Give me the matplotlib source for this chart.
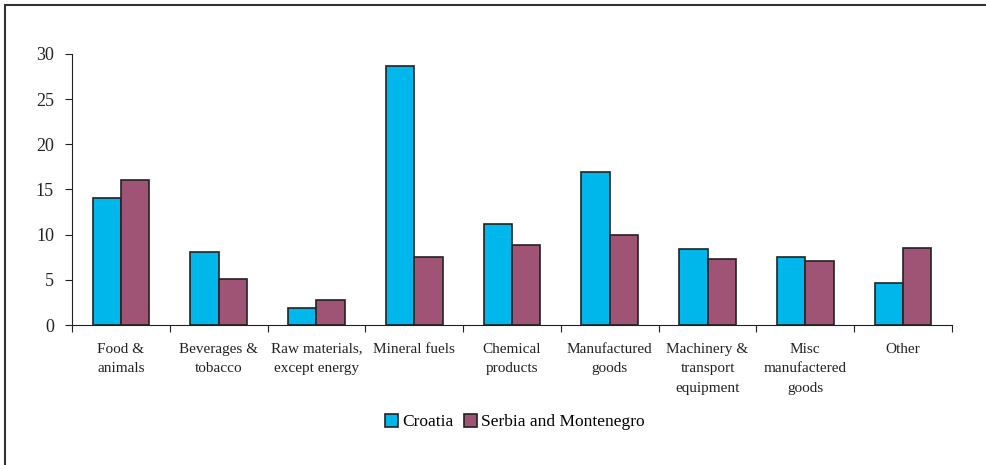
import matplotlib.pyplot as plt
import numpy as np
from matplotlib.patches import Rectangle

categories = ['Food &\nanimals', 'Beverages &\ntobacco', 'Raw materials,\nexcept energy',
              'Mineral fuels', 'Chemical\nproducts', 'Manufactured\ngoods',
              'Machinery &\ntransport\nequipment', 'Misc\nmanufactered\ngoods', 'Other']
croatia = [14.1, 8.1, 1.9, 28.7, 11.2, 16.9, 8.4, 7.5, 4.6]
serbia = [16.0, 5.1, 2.8, 7.5, 8.9, 10.0, 7.3, 7.1, 8.5]

plt.rcParams['font.family'] = ['Liberation Serif', 'DejaVu Serif']

fig = plt.figure(figsize=(9.86, 4.65), dpi=100)
ax = fig.add_axes([0.073, 0.301, 0.8925, 0.583])

x = np.arange(len(categories))
w = 0.29
ax.bar(x - w / 2, croatia, w, color='#00b7eb', edgecolor='#222222', linewidth=1.2, label='Croatia')
ax.bar(x + w / 2, serbia, w, color='#a05475', edgecolor='#222222', linewidth=1.2, label='Serbia and Montenegro')

ax.set_xlim(-0.5, len(categories) - 0.5)
ax.set_ylim(0, 30)
ax.set_yticks(range(0, 31, 5))
ax.set_xticks(np.arange(len(categories) + 1) - 0.5)
ax.set_xticklabels([])
for i, lab in enumerate(categories):
    ax.text(i, -1.95, lab, ha='center', va='top', fontsize=11, color='#222222', linespacing=1.65)

for s in ['top', 'right']:
    ax.spines[s].set_visible(False)
for s in ['left', 'bottom']:
    ax.spines[s].set_color('#222222')
ax.tick_params(axis='both', direction='out', length=5, color='#222222', labelsize=13, labelcolor='#222222')
ax.tick_params(axis='y', pad=8)

leg = fig.legend(loc='center', bbox_to_anchor=(0.522, 0.092), ncol=2, frameon=False,
                 fontsize=12.5, handlelength=0.75, handleheight=0.75, handletextpad=0.25, columnspacing=0.6)

# outer frame
fig.patches.append(Rectangle((5 / 986, -0.1), 1.1, 1 - 5 / 465 + 0.1, transform=fig.transFigure,
                             fill=False, edgecolor='#333333', linewidth=1.5))

fig.savefig('out.png', dpi=100)
